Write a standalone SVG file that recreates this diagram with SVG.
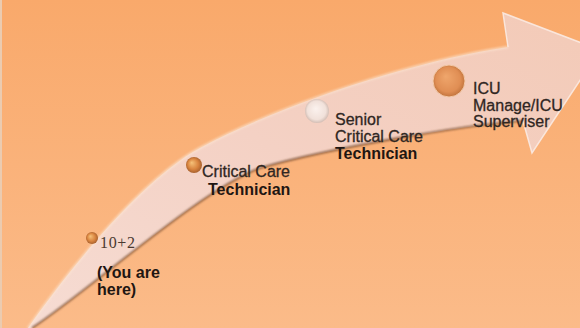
<svg xmlns="http://www.w3.org/2000/svg" width="580" height="328" viewBox="0 0 580 328">
  <defs>
    <linearGradient id="bg" x1="0" y1="0" x2="0" y2="1">
      <stop offset="0" stop-color="#F9A96B"/>
      <stop offset="1" stop-color="#FBBB89"/>
    </linearGradient>
    <linearGradient id="arrowFill" x1="0" y1="1" x2="1" y2="0">
      <stop offset="0" stop-color="#F6DCD3"/>
      <stop offset="0.5" stop-color="#F4D1C4"/>
      <stop offset="1" stop-color="#F3CAB7"/>
    </linearGradient>
    <radialGradient id="orangeBall" cx="0.5" cy="0.5" r="0.55" fx="0.4" fy="0.35">
      <stop offset="0" stop-color="#EFA66C"/>
      <stop offset="0.7" stop-color="#E08E54"/>
      <stop offset="1" stop-color="#B86C36"/>
    </radialGradient>
    <radialGradient id="smallBall" cx="0.5" cy="0.5" r="0.55" fx="0.35" fy="0.35">
      <stop offset="0" stop-color="#F6C27A"/>
      <stop offset="0.6" stop-color="#D9843F"/>
      <stop offset="1" stop-color="#9E5A2A"/>
    </radialGradient>
    <radialGradient id="whiteBall" cx="0.5" cy="0.5" r="0.55" fx="0.45" fy="0.4">
      <stop offset="0" stop-color="#FBF2EE"/>
      <stop offset="0.7" stop-color="#F1E1DA"/>
      <stop offset="1" stop-color="#C9B2A8"/>
    </radialGradient>
    <filter id="soft" x="-10%" y="-10%" width="120%" height="120%">
      <feGaussianBlur stdDeviation="0.8"/>
    </filter>
    <style>
      .lbl { font-family: "Liberation Sans", Arial, sans-serif; font-size: 16px; fill: #2f2622; stroke: #2f2622; stroke-width: 0.3; }
      .bold { font-weight: bold; fill: #1f1612; stroke: none; }
      .serif { font-family: "Liberation Serif", "Times New Roman", serif; font-size: 16px; fill: #4a3a30; }
    </style>
  </defs>

  <rect x="0" y="0" width="580" height="328" fill="url(#bg)"/>
  <rect x="0" y="0" width="2" height="328" fill="#EBCBB0"/>

  <g id="connectors">
    <path id="arrow" d="M28,328 C65,275 140,180 200,148 C290,100 420,60 508,47 L503,13 L600,50 L532,153 L523,121 C470,124 330,148 260,168 C200,190 90,290 32,328 Z" fill="url(#arrowFill)"/>
    <path d="M28,328 C65,275 140,180 200,148 C290,100 420,60 508,47" fill="none" stroke="#FCE6D2" stroke-width="2" opacity="0.8" filter="url(#soft)"/>
    <path d="M508,47 L503,13 L600,50 L532,153 L523,121" fill="none" stroke="#FBEAE2" stroke-width="1.5" opacity="0.9"/>
    <path d="M523,121 C470,124 330,148 260,168 C200,190 90,290 32,328" fill="none" stroke="#7E5236" stroke-width="1.6" filter="url(#soft)"/>
  </g>

  <g id="node-10plus2">
    <circle cx="92" cy="238" r="6" fill="url(#smallBall)"/>
    <text class="serif" x="100" y="248" textLength="35">10+2</text>
    <text class="lbl bold" x="97" y="278">(You are</text>
    <text class="lbl bold" x="97" y="295">here)</text>
  </g>

  <g id="node-critical-care">
    <circle cx="194" cy="165" r="8" fill="url(#smallBall)"/>
    <text class="lbl" x="202" y="177">Critical Care</text>
    <text class="lbl bold" x="208" y="195">Technician</text>
  </g>

  <g id="node-senior">
    <circle cx="317" cy="111" r="12" fill="url(#whiteBall)"/>
    <text class="lbl" x="335" y="125">Senior</text>
    <text class="lbl" x="335" y="142">Critical Care</text>
    <text class="lbl bold" x="335" y="159">Technician</text>
  </g>

  <g id="node-icu">
    <circle cx="449" cy="81" r="16" fill="url(#orangeBall)" stroke="#F3C9A8" stroke-width="1"/>
    <text class="lbl" x="473" y="94">ICU</text>
    <text class="lbl" x="473" y="111">Manage/ICU</text>
    <text class="lbl" x="473" y="127">Superviser</text>
  </g>
</svg>
